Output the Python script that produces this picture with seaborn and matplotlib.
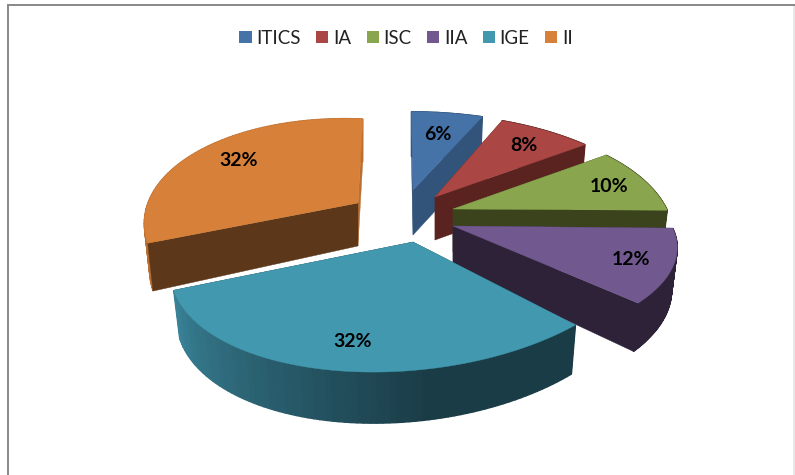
import numpy as np
import seaborn as sns
import matplotlib.pyplot as plt
from matplotlib.patches import Patch

categories = ["ITICS", "IA", "ISC", "IIA", "IGE", "II"]
shares = [6, 8, 10, 12, 32, 32]
labels = ["6%", "8%", "10%", "12%", "32%", "32%"]

top_colors = ["#4572A7", "#AA4643", "#89A54E", "#71588F", "#4198AF", "#D68039"]
dark_colors = ["#32547A", "#5B2320", "#3A431C", "#2D2238", "#1A3C47", "#5C3719"]
lit_colors = ["#3F6897", "#96403C", "#7B9546", "#664F81", "#3A8499", "#B96F33"]

# how each exploded slice sits on the page, in the order of categories
tip_x = [413, 435, 453, 453, 413, 358]
tip_y = [190, 197, 209, 226, 242, 203]
scale_x = [235, 225, 217, 222, 233, 206]
scale_y = [97, 103, 107, 93, 117, 104]
skew_x = [-2, -1, 14, 22, 43, 6]
skew_y = [-2, -7, -8, -8, -4, -9]
tilt = [0.238, 0.238, 0.238, 0.238, 0.1, 0.238]
depth = [45, 43, 43, 41, 46, 43]
label_r = [0.7, 0.78, 0.81, 0.82, 0.78, 0.77]
draw_order = [0, 1, 2, 5, 3, 4]


def project(i, angle, r=1.0):
    u = r * np.sin(np.radians(angle))
    v = r * np.cos(np.radians(angle))
    w = 1 + tilt[i] * v
    x = tip_x[i] + (scale_x[i] * u + skew_x[i] * v) / w
    y = tip_y[i] - (scale_y[i] * v + skew_y[i] * u) / w
    return x, y, w


def drop(i, x, y, w):
    # lower edge of the slice wall
    return tip_x[i] + (x - tip_x[i]) * 0.975, y + depth[i] / np.minimum(w, 1)


sns.set_theme(style="white")
plt.rcParams["font.family"] = ["Lato", "DejaVu Sans"]

fig = plt.figure(figsize=(7.95, 4.75), dpi=100)
ax = fig.add_axes([8 / 795, 0, 786 / 795, 470 / 475])
ax.set_xlim(8, 794)
ax.set_ylim(475, 5)
ax.set_xticks([])
ax.set_yticks([])

stops = np.cumsum([0] + shares) / sum(shares) * 360

for i in draw_order:
    a0, a1 = stops[i], stops[i + 1]
    angles = np.linspace(a0, a1, 80)
    xs, ys, ws = project(i, angles)
    bx, by = drop(i, xs, ys, ws)
    tx, ty = tip_x[i], tip_y[i]
    t_depth = ty + depth[i]

    # far cut face goes under the wall
    end_color = lit_colors[i] if a1 > 270 else dark_colors[i]
    ax.fill([tx, xs[-1], bx[-1], tx], [ty, ys[-1], by[-1], t_depth],
            color=end_color, lw=0.3)

    # outer wall, shaded by where it faces
    shades = sns.blend_palette([dark_colors[i], lit_colors[i]], 40)
    for j in range(len(angles) - 1):
        mid = (angles[j] + angles[j + 1]) / 2
        t = np.clip((mid - 165) / 80, 0, 1)
        c = shades[int(t * 39)]
        ax.fill([xs[j], xs[j + 1], bx[j + 1], bx[j]],
                [ys[j], ys[j + 1], by[j + 1], by[j]],
                color=c, lw=1.0)

    ax.fill([tx, xs[0], bx[0], tx], [ty, ys[0], by[0], t_depth],
            color=dark_colors[i], lw=0.3)

    # top face
    ax.fill(np.r_[tx, xs], np.r_[ty, ys], color=top_colors[i], lw=0.3)

    lx, ly, _ = project(i, (a0 + a1) / 2, label_r[i])
    ax.text(lx, ly + 2, labels[i], ha="center", va="center", fontsize=14,
            fontweight="bold", color="black", zorder=10)

handles = [Patch(facecolor=c, edgecolor="none") for c in top_colors]
fig.legend(handles, categories, loc="center", bbox_to_anchor=(406 / 795, 1 - 38 / 475),
           ncol=6, frameon=False, fontsize=13.5, handlelength=0.65, handleheight=0.65,
           handletextpad=0.25, columnspacing=0.82, labelcolor="#222222")

sns.despine(ax=ax, left=False, top=False, right=False, bottom=True)
for side, col in [("left", "#888888"), ("top", "#888888"), ("right", "#E8E8E8")]:
    ax.spines[side].set_color(col)
    ax.spines[side].set_linewidth(1.4)

fig.savefig("out.png", dpi=100)
